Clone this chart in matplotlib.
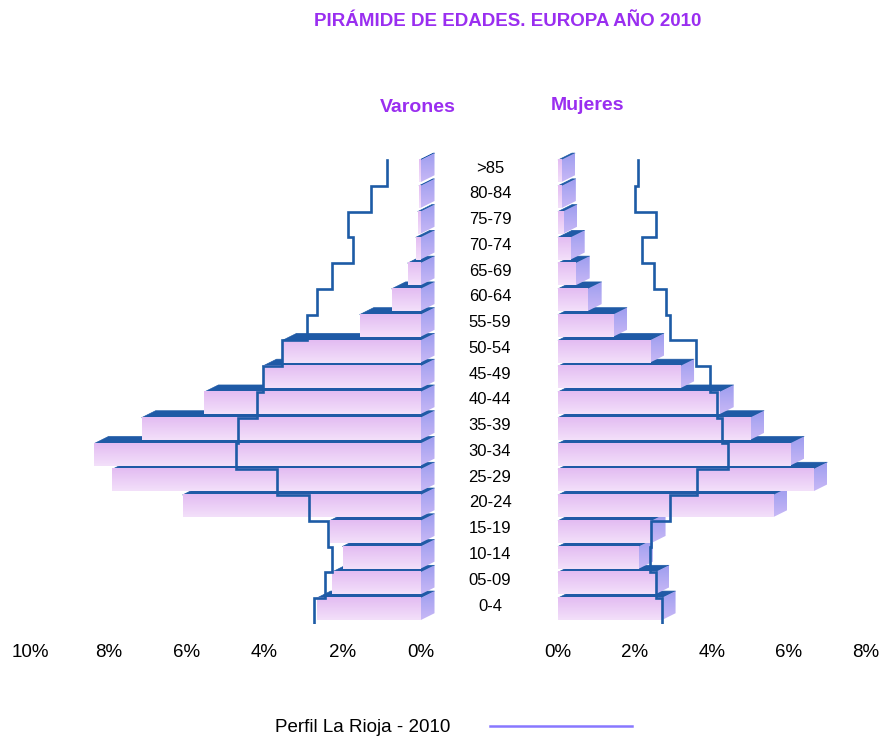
import matplotlib.pyplot as plt
from matplotlib.patches import Polygon
from matplotlib.transforms import blended_transform_factory
from matplotlib.colors import to_rgb
import numpy as np

plt.rcParams['font.family'] = ['Liberation Sans', 'DejaVu Sans']

# age groups, bottom (0-4) to top (>85)
edades = ['0-4', '05-09', '10-14', '15-19', '20-24', '25-29', '30-34', '35-39',
          '40-44', '45-49', '50-54', '55-59', '60-64', '65-69', '70-74',
          '75-79', '80-84', '>85']

# bars: Europa 2010 (% of population)
europa_varones = [2.66, 2.28, 2.0, 2.33, 6.1, 7.9, 8.36, 7.15, 5.54, 4.05,
                  3.54, 1.56, 0.74, 0.33, 0.12, 0.07, 0.04, 0.03]
europa_mujeres = [2.69, 2.52, 2.1, 2.43, 5.59, 6.63, 6.03, 4.99, 4.2, 3.17,
                  2.39, 1.43, 0.77, 0.46, 0.33, 0.13, 0.1, 0.08]

# step line: Perfil La Rioja 2010
rioja_varones = [2.72, 2.44, 2.26, 2.38, 2.87, 3.69, 4.72, 4.67, 4.2, 4.05,
                 3.56, 2.92, 2.65, 2.26, 1.74, 1.85, 1.26, 0.87]
rioja_mujeres = [2.71, 2.55, 2.39, 2.42, 2.91, 3.6, 4.42, 4.26, 4.12, 3.95,
                 3.58, 2.91, 2.8, 2.5, 2.17, 2.54, 2.0, 2.07]

ticks_varones = [10, 8, 6, 4, 2, 0]
ticks_mujeres = [0, 2, 4, 6, 8]

W, H = 884, 738
fig = plt.figure(figsize=(W / 100, H / 100), dpi=100)

PURPLE = '#9a2ef0'
TOP = '#1f5aa6'
LINE = '#1d5ba6'


def px_axes(x0, x1, y0, y1):
    return fig.add_axes([x0 / W, 1 - y1 / H, (x1 - x0) / W, (y1 - y0) / H])


def gradient(c_top, c_bot, n=40):
    a = np.array(to_rgb(c_top))
    b = np.array(to_rgb(c_bot))
    t = np.linspace(0, 1, n)[:, None]
    return (a * (1 - t) + b * t)[:, None, :]


FRONT = gradient('#e3bcf2', '#f3e0fa')
SIDE = gradient('#9d9def', '#c8b8f6')

H_FRONT = 0.86   # front face height in rows
DEPTH_Y = 0.27   # 3d depth, rows


def draw_bars(ax, values, off):
    # off: 3d depth along x in data units (sign = screen right)
    for k, v in enumerate(values):
        z = 2 + k * 0.01
        yt = k + 0.5
        yb = yt - H_FRONT
        x_end = v if off > 0 else 0
        top = Polygon([(0, yt), (v, yt), (v + off, yt + DEPTH_Y), (off, yt + DEPTH_Y)],
                      closed=True, facecolor=TOP, edgecolor=TOP, lw=0.5, zorder=z)
        ax.add_patch(top)
        side = Polygon([(x_end, yb), (x_end + off, yb + DEPTH_Y),
                        (x_end + off, yt + DEPTH_Y), (x_end, yt)],
                       closed=True, facecolor='none', edgecolor='none',
                       transform=ax.transData)
        im = ax.imshow(SIDE, extent=(min(x_end, x_end + off), max(x_end, x_end + off),
                                     yb, yt + DEPTH_Y),
                       aspect='auto', origin='upper', zorder=z, interpolation='bilinear')
        im.set_clip_path(side)
        if v > 0:
            ax.imshow(FRONT, extent=(min(0, v), max(0, v), yb, yt), aspect='auto',
                      origin='upper', zorder=z + 0.001, interpolation='bilinear')


def draw_step(ax, values):
    k = np.arange(len(values))
    xs = np.repeat(values, 2)
    ys = np.column_stack([k - 0.5, k + 0.5]).ravel()
    ax.plot(xs, ys, color=LINE, lw=1.9, zorder=10, solid_joinstyle='miter')


Y0, Y1 = 134.3, 623.8
ax_v = px_axes(30.5, 440, Y0, Y1)
ax_m = px_axes(554.15, 881.4, Y0, Y1)

draw_bars(ax_v, europa_varones, -14 / 39)
draw_bars(ax_m, europa_mujeres, 14 / 38.5)
draw_step(ax_v, rioja_varones)
draw_step(ax_m, rioja_mujeres)

ax_v.set_xlim(10, -0.5)
ax_m.set_xlim(-0.1, 8.4)
for ax, ticks in ((ax_v, ticks_varones), (ax_m, ticks_mujeres)):
    ax.set_ylim(-0.5, 18.5)
    ax.set_xticks(ticks)
    ax.set_xticklabels([f'{t}%' for t in ticks], fontsize=13.5)
    ax.tick_params(axis='x', length=0, pad=14.5)
    ax.set_yticks([])
    for s in ax.spines.values():
        s.set_visible(False)
    ax.patch.set_alpha(0)

tr = blended_transform_factory(fig.transFigure, ax_v.transData)
for k, lab in enumerate(edades):
    fig.text(490 / W, k + 0.19, lab, transform=tr, ha='center', va='center',
             fontsize=12)

fig.text(508 / W, 1 - 22 / H, 'PIRÁMIDE DE EDADES. EUROPA AÑO 2010', ha='center',
         va='center', fontsize=13.5, fontweight='bold', color=PURPLE)
fig.text(418 / W, 1 - 108 / H, 'Varones', ha='center', va='center', fontsize=14,
         fontweight='bold', color=PURPLE)
fig.text(588 / W, 1 - 105 / H, 'Mujeres', ha='center', va='center', fontsize=14,
         fontweight='bold', color=PURPLE)

fig.text(275 / W, 1 - 727 / H, 'Perfil La Rioja - 2010', ha='left', va='center',
         fontsize=13.5)
fig.add_artist(plt.Line2D([490 / W, 632 / W], [1 - 726 / H, 1 - 726 / H],
                          color='#8878ff', lw=1.8, transform=fig.transFigure))

fig.savefig('out.png', dpi=100)
